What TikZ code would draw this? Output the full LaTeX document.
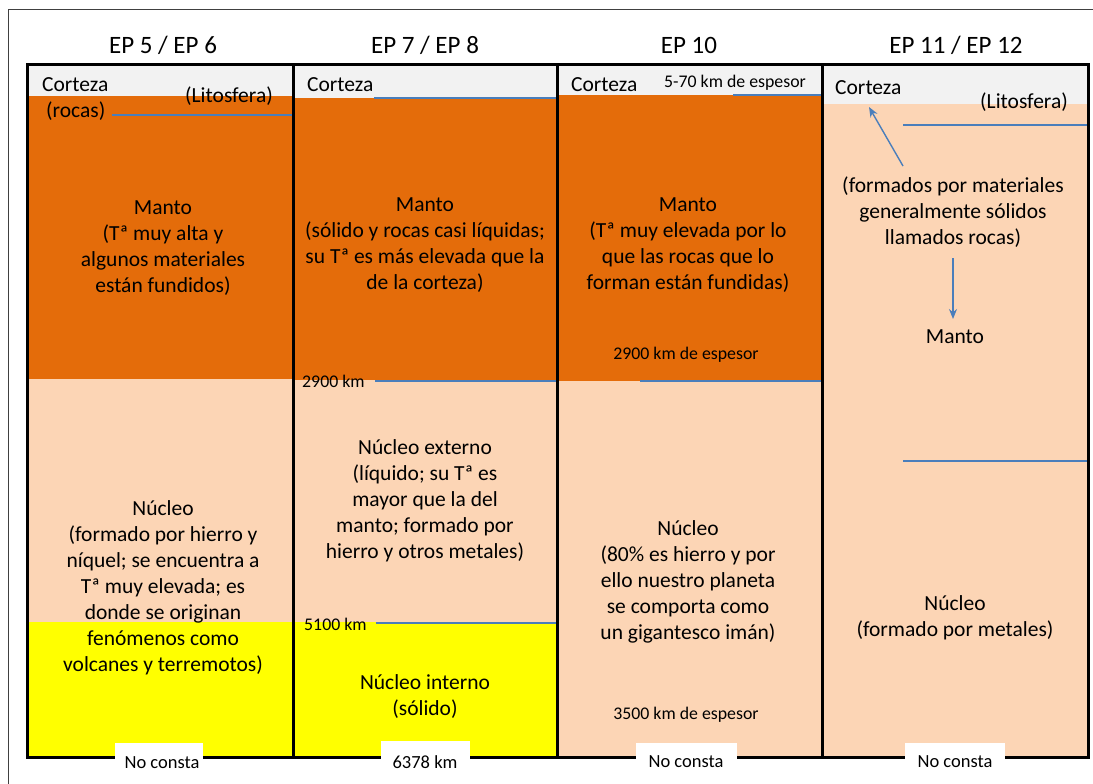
\documentclass[tikz,border=0pt]{standalone}
\usepackage{fontspec}
\setmainfont{Carlito}
\usetikzlibrary{arrows.meta}
\definecolor{orng}{HTML}{E46C0A}
\definecolor{peach}{HTML}{FCD5B5}
\definecolor{yel}{HTML}{FFFF00}
\definecolor{grayband}{HTML}{F2F2F2}
\definecolor{blueln}{HTML}{4A7EBB}
\definecolor{framegray}{HTML}{404040}
\begin{document}
\begin{tikzpicture}[x=1pt,y=-1pt,
  txt/.style={font=\fontsize{21.5}{26}\selectfont, align=center, inner sep=0pt, text=black},
  lab/.style={font=\fontsize{21.5}{26}\selectfont, inner sep=0pt, text=black},
  small/.style={font=\fontsize{17.8}{20}\selectfont, inner sep=0pt, text=black},
  hdr/.style={font=\fontsize{25}{30}\selectfont, inner sep=0pt, text=black},
  foot/.style={fill=white, font=\fontsize{18.5}{22}\selectfont, inner sep=0pt, text=black},
  bl/.style={draw=blueln, line width=1.4pt},
  arr/.style={bl, -{Stealth[length=10pt,width=8pt]}},
  thick border/.style={draw=black, line width=3pt}
]
\useasboundingbox (0,0) rectangle (1093,784);
\fill[white] (0,0) rectangle (1093,784);
% outer thin frame
\draw[framegray, line width=1pt] (8,790) -- (8,10) -- (1100,10);

% headers
\node[hdr] (h1) at (163,45) {EP 5 / EP 6};
\node[hdr] (h2) at (425,45) {EP 7 / EP 8};
\node[hdr] (h3) at (689,45) {EP 10};
\node[hdr] (h4) at (956,45) {EP 11 / EP 12};

% column 1 fills
\fill[grayband] (27,65) rectangle (293,96);
\fill[orng] (27,96) rectangle (293,379);
\fill[peach] (27,379) rectangle (293,622);
\fill[yel] (27,622) rectangle (293,757);
% column 2 fills
\fill[grayband] (293,65) rectangle (557,98);
\fill[orng] (293,98) rectangle (557,380);
\fill[peach] (293,380) rectangle (557,622);
\fill[yel] (293,622) rectangle (557,757);
% column 3 fills
\fill[grayband] (557,65) rectangle (822,95);
\fill[orng] (557,95) rectangle (822,381);
\fill[peach] (557,381) rectangle (822,757);
% column 4 fills
\fill[grayband] (822,65) rectangle (1088,104);
\fill[peach] (822,104) rectangle (1088,757);

% column 1 texts
\node[lab, anchor=west] (c1cort) at (42,85) {Corteza};
\node[lab, anchor=west] (c1lit) at (185,96) {(Litosfera)};
\node[lab, anchor=west] (c1roc) at (46,111) {(rocas)};
\node[txt] (c1manto) at (163,248) {Manto\\(Tª muy alta y\\algunos materiales\\están fundidos)};
\node[txt] (c1nuc) at (163,588) {Núcleo\\(formado por hierro y\\níquel; se encuentra a\\Tª muy elevada; es\\donde se originan\\fenómenos como\\volcanes y terremotos)};

% column 2 texts
\node[lab, anchor=west] (c2cort) at (307,85) {Corteza};
\node[txt] (c2manto) at (425,245) {Manto\\(sólido y rocas casi líquidas;\\su Tª es más elevada que la\\de la corteza)};
\node[small, anchor=west] (c2k29) at (302,381) {2900 km};
\node[txt] (c2next) at (425,501) {Núcleo externo\\(líquido; su Tª es\\mayor que la del\\manto; formado por\\hierro y otros metales)};
\node[small, anchor=west] (c2k51) at (304,624) {5100 km};
\node[txt] (c2nint) at (425,697) {Núcleo interno\\(sólido)};

% column 3 texts
\node[lab, anchor=west] (c3cort) at (571,85) {Corteza};
\node[small, anchor=west] (c3esp) at (664,83) {5-70 km de espesor};
\node[txt] (c3manto) at (688,245) {Manto\\(Tª muy elevada por lo\\que las rocas que lo\\forman están fundidas)};
\node[small] (c3k29) at (686,355) {2900 km de espesor};
\node[txt] (c3nuc) at (688,582) {Núcleo\\(80\% es hierro y por\\ello nuestro planeta\\se comporta como\\un gigantesco imán)};
\node[small] (c3k35) at (686,715) {3500 km de espesor};

% column 4 texts
\node[lab, anchor=west] (c4cort) at (835,88) {Corteza};
\node[lab, anchor=west] (c4lit) at (980,102) {(Litosfera)};
\node[txt] (c4form) at (953,212) {(formados por materiales\\generalmente sólidos\\llamados rocas)};
\node[txt] (c4manto) at (955,337) {Manto};
\node[txt] (c4nuc) at (955,618) {Núcleo\\(formado por metales)};

% blue lines
\coordinate (b1a) at (112,115); \coordinate (b1b) at (293,115);
\draw[bl] (b1a) -- (b1b);
\coordinate (b2a) at (374,98); \coordinate (b2b) at (557,98);
\draw[bl] (b2a) -- (b2b);
\coordinate (b3a) at (375,381); \coordinate (b3b) at (557,381);
\draw[bl] (b3a) -- (b3b);
\coordinate (b4a) at (376,623); \coordinate (b4b) at (557,623);
\draw[bl] (b4a) -- (b4b);
\coordinate (b5a) at (733,95); \coordinate (b5b) at (822,95);
\draw[bl] (b5a) -- (b5b);
\coordinate (b6a) at (640,381); \coordinate (b6b) at (822,381);
\draw[bl] (b6a) -- (b6b);
\coordinate (b7a) at (903,125); \coordinate (b7b) at (1088,125);
\draw[bl] (b7a) -- (b7b);
\coordinate (b8a) at (903,461); \coordinate (b8b) at (1088,461);
\draw[bl] (b8a) -- (b8b);

% arrows column 4
\coordinate (ar1s) at (903,166); \coordinate (ar1e) at (869,107);
\draw[arr] (ar1s) -- (ar1e);
\coordinate (ar2s) at (953,258); \coordinate (ar2e) at (953,319);
\draw[arr] (ar2s) -- (ar2e);

% borders
\draw[thick border] (27,65) rectangle (1088,757);
\draw[thick border] (293,65) -- (293,757);
\draw[thick border] (557,65) -- (557,757);
\draw[thick border] (822,65) -- (822,757);

% footer labels
\fill[white] (115,743) rectangle (203,790);
\node[foot] (f1) at (162,763) {No consta};
\fill[white] (381,741) rectangle (470,790);
\node[foot] (f2) at (425,762) {6378 km};
\fill[white] (636,743) rectangle (737,790);
\node[foot] (f3) at (686,762) {No consta};
\fill[white] (905,743) rectangle (1005,790);
\node[foot] (f4) at (955,762) {No consta};
\end{tikzpicture}
\end{document}
